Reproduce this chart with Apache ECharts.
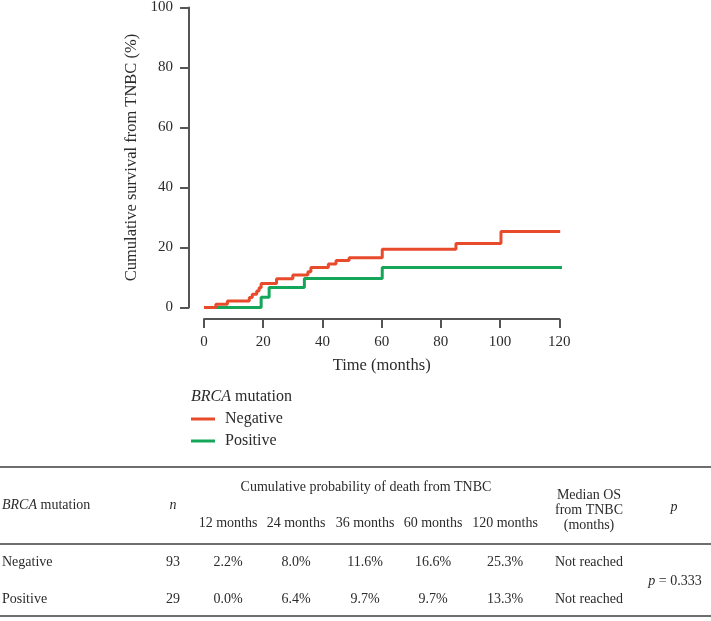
<!DOCTYPE html>
<html>
<head>
<meta charset="utf-8">
<script src="https://cdn.jsdelivr.net/npm/echarts@6/dist/echarts.min.js"></script>
<style>
html,body{margin:0;padding:0;background:#fff;}
#chart{width:711px;height:621px;}
</style>
</head>
<body>
<div id="chart"></div>
<script>
// ---- Data ----
const seriesNames = ['Negative', 'Positive'];
const negTimes = [0, 4, 7.9, 15.3, 16.3, 17.8, 18.6, 19.3, 24.5, 30, 35.1, 36.1, 42, 44.6, 49, 60.2, 85.1, 100.3, 120.3];
const negValues = [0, 1.1, 2.2, 3.3, 4.4, 5.5, 6.6, 8.0, 9.6, 10.8, 11.9, 13.3, 14.5, 15.7, 16.6, 19.4, 21.3, 25.3, 25.3];
const posTimes = [0, 19.3, 22, 33.9, 60.2, 121.2];
const posValues = [0, 3.4, 6.7, 9.7, 13.3, 13.3];
const xTicks = [0, 20, 40, 60, 80, 100, 120];
const yTicks = [0, 20, 40, 60, 80, 100];

const tableTimepoints = ['12 months', '24 months', '36 months', '60 months', '120 months'];
const tableGroups = ['Negative', 'Positive'];
const tableN = [93, 29];
const tableNegProb = ['2.2%', '8.0%', '11.6%', '16.6%', '25.3%'];
const tablePosProb = ['0.0%', '6.4%', '9.7%', '9.7%', '13.3%'];
const tableMedian = ['Not reached', 'Not reached'];
const tablePValue = '0.333';

// ---- Build ----
const FONT = '"Liberation Serif", "DejaVu Serif", serif';
const TXT = '#2b2b2b';
const AX = '#555555';
const RED = '#E84A2C';
const GREEN = '#16A65A';

const negData = negTimes.map((t, i) => [t, negValues[i]]);
const posData = posTimes.map((t, i) => [t, posValues[i]]);

const chart = echarts.init(document.getElementById('chart'), null, {renderer: 'canvas'});

function txt(text, x, y, align, extra) {
  return {
    type: 'text',
    silent: true,
    style: Object.assign({
      text: text, x: x, y: y,
      align: align || 'center', verticalAlign: 'middle',
      fill: TXT, fontSize: 14, fontFamily: FONT,
      rich: {i: {fontStyle: 'italic', fontSize: 14, fontFamily: FONT, fill: TXT}}
    }, extra || {})
  };
}
function hline(y) {
  return {type: 'line', silent: true, shape: {x1: 0, y1: y, x2: 711, y2: y},
          style: {stroke: '#6e6e6e', lineWidth: 2}};
}

const colX = [228, 296, 365, 433, 505];
const rowY = [562, 599];
const graphics = [];
// Legend title
graphics.push(txt('{i|BRCA} mutation', 191, 397, 'left', {
  fontSize: 16, rich: {i: {fontStyle: 'italic', fontSize: 16, fontFamily: FONT, fill: TXT}}
}));
// Table rules
graphics.push(hline(467), hline(544), hline(616));
// Header
graphics.push(txt('{i|BRCA} mutation', 2, 505, 'left'));
graphics.push(txt('{i|n}', 173, 505, 'center'));
graphics.push(txt('Cumulative probability of death from TNBC', 366, 487, 'center'));
tableTimepoints.forEach((t, i) => graphics.push(txt(t, colX[i], 523, 'center')));
graphics.push(txt('Median OS', 589, 495, 'center'));
graphics.push(txt('from TNBC', 589, 510, 'center'));
graphics.push(txt('(months)', 589, 525, 'center'));
graphics.push(txt('{i|p}', 674, 507, 'center'));
// Rows
const probs = [tableNegProb, tablePosProb];
tableGroups.forEach((g, r) => {
  graphics.push(txt(g, 2, rowY[r], 'left'));
  graphics.push(txt(String(tableN[r]), 180, rowY[r], 'right'));
  probs[r].forEach((p, i) => graphics.push(txt(p, colX[i], rowY[r], 'center')));
  graphics.push(txt(tableMedian[r], 589, rowY[r], 'center'));
});
graphics.push(txt('{i|p} = ' + tablePValue, 675, 581, 'center'));

const option = {
  backgroundColor: '#ffffff',
  animation: false,
  grid: {left: 204, right: 711 - 559.3, top: 6, bottom: 621 - 307.5, containLabel: false},
  xAxis: {
    type: 'value', min: xTicks[0], max: xTicks[xTicks.length - 1], interval: 20,
    offset: 11.5,
    name: 'Time (months)', nameLocation: 'middle', nameGap: 38,
    nameTextStyle: {fontSize: 16.5, fontFamily: FONT, color: TXT},
    axisLine: {show: true, onZero: false, lineStyle: {color: AX, width: 2}},
    axisTick: {show: true, length: 9, lineStyle: {color: AX, width: 2}},
    axisLabel: {margin: 16, fontSize: 15, fontFamily: FONT, color: TXT},
    splitLine: {show: false}
  },
  yAxis: {
    type: 'value', min: yTicks[0], max: yTicks[yTicks.length - 1], interval: 20,
    offset: 15,
    name: 'Cumulative survival from TNBC (%)', nameLocation: 'middle', nameGap: 49,
    nameTextStyle: {fontSize: 16.5, fontFamily: FONT, color: TXT},
    axisLine: {show: true, onZero: false, lineStyle: {color: AX, width: 2}},
    axisTick: {show: true, length: 9, lineStyle: {color: AX, width: 2}},
    axisLabel: {margin: 16, fontSize: 15, fontFamily: FONT, color: TXT},
    splitLine: {show: false}
  },
  legend: {
    data: seriesNames, orient: 'vertical', left: 191, top: 411, padding: 0,
    itemWidth: 24, itemHeight: 3, itemGap: 6, icon: 'rect',
    textStyle: {fontSize: 16, fontFamily: FONT, color: TXT, padding: [0, 0, 0, 5]}
  },
  series: [
    {name: seriesNames[1], type: 'line', step: 'end', data: posData, showSymbol: false,
     clip: false, z: 2, color: GREEN, lineStyle: {color: GREEN, width: 3}},
    {name: seriesNames[0], type: 'line', step: 'end', data: negData, showSymbol: false,
     clip: false, z: 3, color: RED, lineStyle: {color: RED, width: 3}}
  ],
  graphic: graphics
};
chart.setOption(option);
</script>
</body>
</html>
